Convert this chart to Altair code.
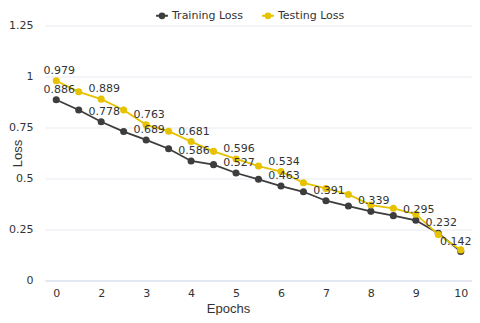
import altair as alt
import pandas as pd

series_names = ["Training Loss", "Testing Loss"]
training = [0.886, 0.836, 0.778, 0.730, 0.689, 0.646, 0.586, 0.568, 0.527, 0.496,
            0.463, 0.435, 0.391, 0.365, 0.339, 0.318, 0.295, 0.232, 0.142]
testing = [0.979, 0.925, 0.889, 0.836, 0.763, 0.732, 0.681, 0.633, 0.596, 0.561,
           0.534, 0.479, 0.451, 0.422, 0.370, 0.354, 0.325, 0.225, 0.150]
training_labeled = [0, 2, 4, 6, 8, 10, 12, 14, 16, 17, 18]
testing_labeled = [0, 2, 4, 6, 8, 10]
tick_labels = ["0", "2", "3", "4", "5", "6", "7", "8", "9", "10"]
y_ticks = [0, 0.25, 0.5, 0.75, 1, 1.25]
colors = ["#3d3d3d", "#e6c200"]

n = len(training)
rows = []
for i, v in enumerate(training):
    rows.append({"idx": i, "value": v, "series": series_names[0],
                 "show": i in training_labeled, "last": i == n - 1})
for i, v in enumerate(testing):
    rows.append({"idx": i, "value": v, "series": series_names[1],
                 "show": i in testing_labeled, "last": i == n - 1})
df = pd.DataFrame(rows)

label_arr = "[" + ",".join("'%s'" % t for t in tick_labels) + "]"

x_enc = alt.X("idx:Q", scale=alt.Scale(domain=[-0.5, n - 0.5], nice=False, zero=False),
              axis=alt.Axis(values=list(range(0, n, 2)), labelExpr=label_arr + "[datum.value/2]",
                            grid=False, ticks=False, labelPadding=7, domain=True, domainColor="#d3daea",
                            domainWidth=1, title="Epochs", titleFont="Liberation Sans", titleFontSize=13,
                            titleFontWeight="normal", titleColor="#333", titleX=183, titleY=22,
                            labelFont="DejaVu Sans", labelFontSize=11, labelColor="#333"))
y_enc = alt.Y("value:Q", scale=alt.Scale(domain=[0, 1.25], nice=False),
              axis=alt.Axis(values=y_ticks, labelExpr="format(datum.value, '.2~f')", grid=True,
                            gridColor="#e6e9f0", ticks=False,
                            domain=False, labelPadding=12, labelFont="DejaVu Sans", labelFontSize=11,
                            labelColor="#333", title="Loss", titleFont="Liberation Sans", titleFontSize=13,
                            titleFontWeight="normal", titleColor="#333", titleX=-21, titleY=127.5))
color_enc = alt.Color("series:N", scale=alt.Scale(domain=series_names, range=colors),
                      legend=alt.Legend(title=None, orient="none", direction="horizontal",
                                        legendX=110, legendY=-17, labelFont="DejaVu Sans",
                                        labelFontSize=11, labelColor="#333", columnPadding=14,
                                        symbolType="M-1,0H1M-0.4,0a0.4,0.4 0 1,0 0.8,0a0.4,0.4 0 1,0 -0.8,0",
                                        symbolSize=140, symbolStrokeWidth=2, labelOffset=3))

base = alt.Chart(df)
layers = []
for name in series_names:
    sub = base.transform_filter(alt.datum.series == name)
    layers.append(sub.mark_line(strokeWidth=1.8).encode(x=x_enc, y=y_enc, color=color_enc))
    layers.append(sub.mark_point(filled=True, size=50, opacity=1).encode(x=x_enc, y=y_enc, color=color_enc))

text_kw = dict(font="DejaVu Sans", fontSize=11, color="#333", dy=-10, align="center", baseline="middle")
labels = base.transform_filter(alt.datum.show & ~alt.datum.last).mark_text(dx=3, **text_kw).encode(
    x=x_enc, y=y_enc, text=alt.Text("value:Q", format=".3f"))
labels_last = base.transform_filter(alt.datum.show & alt.datum.last).mark_text(dx=-5, **text_kw).encode(
    x=x_enc, y=y_enc, text=alt.Text("value:Q", format=".3f"))

chart = alt.layer(*layers, labels, labels_last).properties(
    width=427, height=255,
    autosize=alt.AutoSizeParams(type="none"),
    padding={"left": 37, "top": 17.5, "right": 0, "bottom": 34.5},
).configure_view(stroke=None)

chart.save("out.html", embed_options={"renderer": "svg", "actions": False})
